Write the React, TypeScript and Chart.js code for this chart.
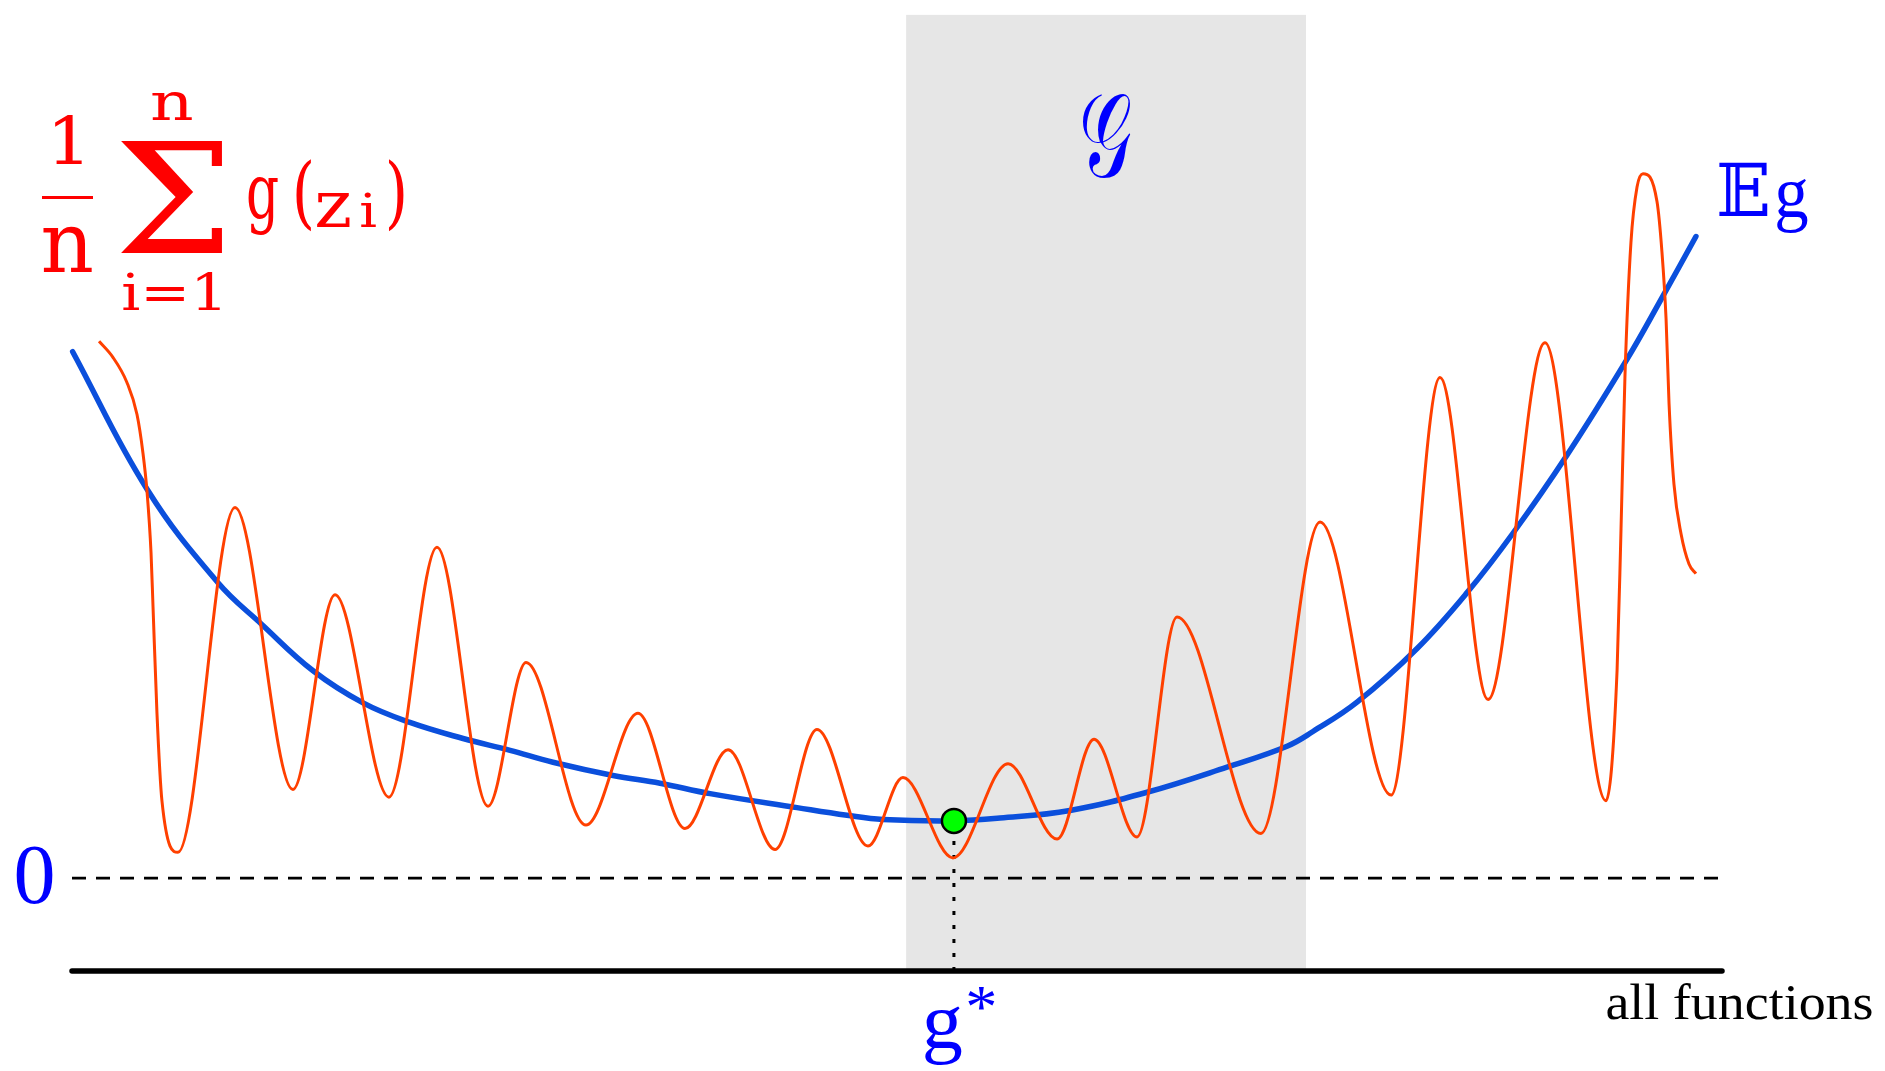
import { useEffect, useRef } from 'react';
import { Chart, registerables } from 'chart.js';

Chart.register(...registerables);

// Horizontal position runs over "all functions" (0..100), vertical is the risk value.
const AXIS_Y = -13.3; // level of the "all functions" axis
const Y_MAX = 123.7;
const G_STAR_X = 53.45; // minimiser of the expected risk
const G_STAR_Y = 8.2;
const CLASS_X = [50.55, 74.79]; // extent of the class 𝒢

// Expected risk 𝔼g
const expectedX = [0.04, 4.55, 8.85, 11.52, 14.61, 17.64, 20.48, 23.7, 26.55, 29.15, 32.79, 35.64, 38.67, 43.94, 46.97, 49.15, 53.45, 56.24, 60.48, 65.15, 70.0, 73.64, 75.21, 77.88, 81.52, 84.55, 87.33, 90.61, 94.24, 96.24, 98.42];
const expectedY = [75.4, 55.7, 42.3, 36.3, 29.7, 25.1, 22.3, 20.0, 18.3, 16.6, 14.7, 13.6, 12.1, 10.1, 9.0, 8.4, 8.2, 8.6, 9.7, 12.3, 15.9, 18.9, 21.0, 25.2, 32.9, 40.9, 49.4, 60.6, 74.3, 82.6, 91.9];

// Empirical risk (1/n) Σ g(z_i)
const empiricalX = [1.64, 2.48, 3.33, 3.94, 4.3, 4.55, 4.79, 4.91, 5.15, 5.45, 6.42, 9.88, 13.39, 15.94, 19.21, 22.12, 25.21, 27.52, 31.15, 34.3, 37.15, 39.76, 42.61, 45.15, 48.24, 50.36, 53.39, 56.73, 59.7, 61.94, 64.55, 66.97, 72.06, 75.64, 79.94, 82.91, 85.82, 89.27, 92.97, 93.64, 93.88, 94.12, 94.48, 94.85, 95.21, 96.06, 96.36, 96.61, 96.79, 97.09, 97.52, 98.0, 98.42];
const empiricalY = [76.9, 74.6, 71.0, 66.4, 60.9, 55.3, 46.6, 38.9, 23.6, 11.1, 3.7, 53.1, 12.7, 40.6, 11.6, 47.4, 10.3, 30.9, 7.6, 23.6, 7.1, 18.4, 4.1, 21.3, 4.6, 14.4, 2.9, 16.4, 5.6, 19.9, 5.9, 37.4, 6.4, 51.0, 11.9, 71.7, 25.6, 76.7, 11.1, 29.7, 50.0, 72.0, 91.0, 99.0, 100.9, 96.9, 89.7, 80.1, 68.0, 56.4, 49.3, 45.0, 43.6];

const zip = (xs: number[], ys: number[]) => xs.map((x, i) => ({ x, y: ys[i] }));

const RED = '#ff0000';
const BLUE_TEXT = '#0000ff';
const SERIF = '"Liberation Serif", "DejaVu Serif", serif';
const FORMULA = '"DejaVu Serif", "Liberation Serif", serif';
const MATH = '"DejaVu Serif", "DejaVu Sans", "Noto Sans", serif';

// Draw a string stretched so its ink box fills the given rectangle.
function fitText(
  ctx: CanvasRenderingContext2D,
  text: string,
  font: string,
  color: string,
  left: number,
  top: number,
  width: number,
  height: number,
  weight = 'normal'
) {
  ctx.save();
  ctx.font = `${weight} 100px ${font}`;
  ctx.textAlign = 'left';
  ctx.textBaseline = 'alphabetic';
  const m = ctx.measureText(text);
  const w = m.actualBoundingBoxLeft + m.actualBoundingBoxRight;
  const h = m.actualBoundingBoxAscent + m.actualBoundingBoxDescent;
  ctx.translate(left, top);
  ctx.scale(width / w, height / h);
  ctx.fillStyle = color;
  ctx.fillText(text, m.actualBoundingBoxLeft, m.actualBoundingBoxAscent);
  ctx.restore();
}

const labelsPlugin = {
  id: 'figureLabels',
  afterDraw(chart: any) {
    const ctx = chart.ctx as CanvasRenderingContext2D;
    const xs = chart.scales.x;
    const ys = chart.scales.y;
    const y0 = ys.getPixelForValue(0);
    const gx = xs.getPixelForValue(G_STAR_X);

    // 0 level
    fitText(ctx, '0', SERIF, BLUE_TEXT, 16, y0 - 30, 37, 57);
    // g*
    fitText(ctx, 'g', SERIF, BLUE_TEXT, gx - 29, 1007, 37, 58);
    fitText(ctx, '*', SERIF, BLUE_TEXT, gx + 14, 987, 27, 23);
    // axis caption
    fitText(ctx, 'all functions', SERIF, '#000000', 1607, 983, 265, 36);
    // class label
    fitText(ctx, '𝒢', MATH, BLUE_TEXT, 1083, 93, 48, 85);
    // expected risk label
    fitText(ctx, '𝔼', MATH, BLUE_TEXT, 1719, 163, 49, 53);
    fitText(ctx, 'g', SERIF, BLUE_TEXT, 1777, 179, 31, 54);

    // (1/n) Σ_{i=1}^{n} g(z_i)
    fitText(ctx, '1', FORMULA, RED, 55, 115, 27, 49);
    ctx.save();
    ctx.fillStyle = RED;
    ctx.fillRect(42, 196, 51, 3);
    ctx.restore();
    fitText(ctx, 'n', FORMULA, RED, 43, 227, 49, 45);
    fitText(ctx, 'n', FORMULA, RED, 152, 92, 40, 28);
    fitText(ctx, 'Σ', FORMULA, RED, 121, 143, 101, 110);
    fitText(ctx, 'i=1', FORMULA, RED, 123, 273, 97, 37);
    fitText(ctx, 'g', FORMULA, RED, 248, 178, 30, 57);
    fitText(ctx, '(', FORMULA, RED, 296, 160, 15, 72);
    fitText(ctx, 'z', FORMULA, RED, 317, 193, 33, 34);
    fitText(ctx, 'i', FORMULA, RED, 361, 193, 15, 34);
    fitText(ctx, ')', FORMULA, RED, 389, 160, 15, 72);
  },
};

export default function App() {
  const ref = useRef<HTMLCanvasElement | null>(null);

  useEffect(() => {
    if (!ref.current) return;
    const chart = new Chart(ref.current, {
      type: 'line',
      data: {
        datasets: [
          {
            // the class 𝒢
            data: [
              { x: CLASS_X[0], y: Y_MAX },
              { x: CLASS_X[1], y: Y_MAX },
            ],
            fill: { value: AXIS_Y },
            backgroundColor: '#e6e6e6',
            borderWidth: 0,
            pointRadius: 0,
            order: 10,
            clip: false,
          },
          {
            // zero level
            data: [
              { x: 0, y: 0 },
              { x: 100, y: 0 },
            ],
            borderColor: '#000000',
            borderWidth: 2.6,
            borderDash: [14, 10],
            pointRadius: 0,
            order: 9,
            clip: false,
          },
          {
            // drop line from the minimiser
            data: [
              { x: G_STAR_X, y: AXIS_Y },
              { x: G_STAR_X, y: G_STAR_Y },
            ],
            borderColor: '#000000',
            borderWidth: 3,
            borderDash: [4, 10],
            pointRadius: 0,
            order: 8,
            clip: false,
          },
          {
            // "all functions" axis
            data: [
              { x: 0, y: AXIS_Y },
              { x: 100, y: AXIS_Y },
            ],
            borderColor: '#000000',
            borderWidth: 5.5,
            borderCapStyle: 'round',
            pointRadius: 0,
            order: 7,
            clip: false,
          },
          {
            label: '𝔼g',
            data: zip(expectedX, expectedY),
            borderColor: '#0b4fdc',
            borderWidth: 5.5,
            borderCapStyle: 'round',
            tension: 0.4,
            pointRadius: 0,
            order: 5,
            clip: false,
          },
          {
            label: '(1/n) Σ g(z_i)',
            data: zip(empiricalX, empiricalY),
            borderColor: '#ff4000',
            borderWidth: 3,
            cubicInterpolationMode: 'monotone',
            pointRadius: 0,
            order: 4,
            clip: false,
          },
          {
            label: 'g*',
            data: [{ x: G_STAR_X, y: G_STAR_Y }],
            showLine: false,
            pointRadius: 12,
            pointBackgroundColor: '#00ff00',
            pointBorderColor: '#000000',
            pointBorderWidth: 2.5,
            order: 1,
            clip: false,
          },
        ],
      },
      options: {
        animation: false,
        responsive: false,
        devicePixelRatio: 1,
        layout: { padding: { left: 72, right: 163, top: 12, bottom: 100 } },
        plugins: {
          legend: { display: false },
          tooltip: { enabled: false },
          title: { display: false },
        },
        scales: {
          x: { type: 'linear', min: 0, max: 100, display: false },
          y: { type: 'linear', min: AXIS_Y, max: Y_MAX, display: false },
        },
        events: [],
      },
      plugins: [labelsPlugin],
    });
    return () => chart.destroy();
  }, []);

  return (
    <div
      style={{
        position: 'fixed',
        left: 0,
        top: 0,
        width: 1885,
        height: 1071,
        background: '#ffffff',
      }}
    >
      <canvas ref={ref} width={1885} height={1071} style={{ display: 'block' }} />
    </div>
  );
}
